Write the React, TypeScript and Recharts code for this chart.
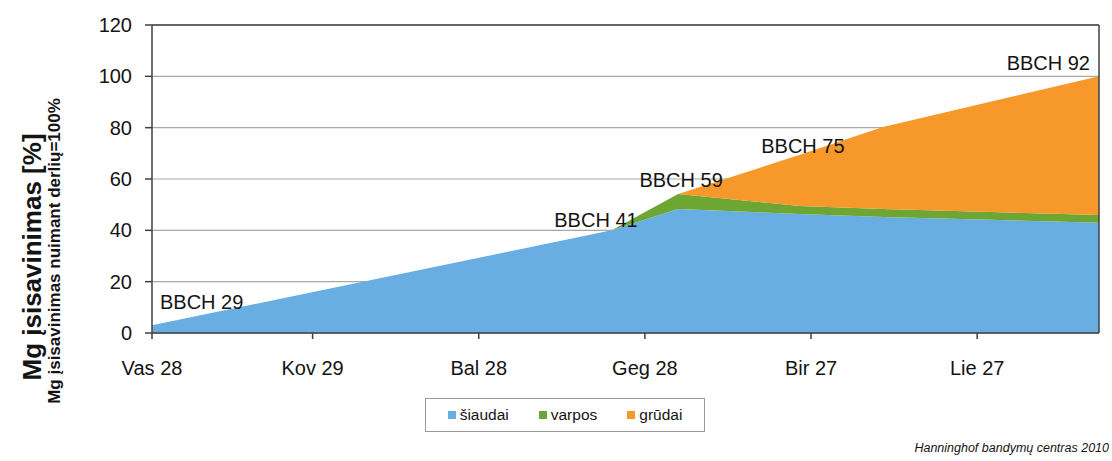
import React from "react";
import { AreaChart, Area, XAxis, YAxis, CartesianGrid, ReferenceLine, LabelList } from "recharts";

// days counted from Vas 28
const days = [0, 83, 95, 117, 132, 171];
const siaudai = [3, 40, 48.3, 46.4, 45.2, 43];
const varpos = [0, 0, 5.9, 3.1, 3.1, 3];
const grudai = [0, 0, 0, 19.9, 32, 54];
const stages = ["BBCH 29", "BBCH 41", "BBCH 59", "BBCH 75", "", "BBCH 92"];

const tickDays = [0, 29, 59, 89, 119, 149];
const tickLabels = ["Vas 28", "Kov 29", "Bal 28", "Geg 28", "Bir 27", "Lie 27"];
const yTicks = [0, 20, 40, 60, 80, 100, 120];

const seriesNames = ["šiaudai", "varpos", "grūdai"];
const colors = ["#68aee2", "#6ea634", "#f6982a"];

const data = days.map((d, i) => ({
  day: d,
  siaudai: siaudai[i],
  varpos: varpos[i],
  grudai: grudai[i],
  stage: stages[i],
}));

const FONT = "'Liberation Sans', Arial, sans-serif";

// where each stage label sits relative to the top of the stack
const stageOffset: Record<string, { dx: number; dy: number; anchor: string }> = {
  "BBCH 29": { dx: 8, dy: -16, anchor: "start" },
  "BBCH 41": { dx: 26, dy: -3, anchor: "end" },
  "BBCH 59": { dx: 3, dy: -7, anchor: "middle" },
  "BBCH 75": { dx: 3, dy: -2, anchor: "middle" },
  "BBCH 92": { dx: -9, dy: -6, anchor: "end" },
};

const StageLabel = (props: any) => {
  const { x, y, value } = props;
  if (!value) return null;
  const o = stageOffset[value];
  return (
    <text x={x + o.dx} y={y + o.dy} textAnchor={o.anchor} fontSize={20} fontFamily={FONT} fill="#141414">
      {value}
    </text>
  );
};

const App = () => {
  return (
    <div style={{ position: "absolute", left: 0, top: 0, width: 1112, height: 461, background: "#fff", fontFamily: FONT }}>
      <AreaChart width={1112} height={461} data={data} margin={{ top: 25, right: 13, left: 72, bottom: 88 }}>
        <CartesianGrid horizontal vertical={false} stroke="#a8a8a8" strokeWidth={1.2} />
        <XAxis
          dataKey="day"
          type="number"
          domain={[0, 171]}
          ticks={tickDays}
          tickFormatter={(v: number) => tickLabels[tickDays.indexOf(v)]}
          height={40}
          tickSize={6}
          tickMargin={22}
          stroke="#404040"
          strokeWidth={1.5}
          tick={{ fill: "#141414", fontSize: 20, fontFamily: FONT }}
        />
        <YAxis
          domain={[0, 120]}
          ticks={yTicks}
          width={80}
          tickSize={7}
          tickMargin={13}
          stroke="#404040"
          strokeWidth={1.5}
          tick={{ fill: "#141414", fontSize: 20, fontFamily: FONT }}
        />
        <Area type="linear" dataKey="siaudai" name={seriesNames[0]} stackId="a" fill={colors[0]} fillOpacity={1} stroke="none" isAnimationActive={false} />
        <Area type="linear" dataKey="varpos" name={seriesNames[1]} stackId="a" fill={colors[1]} fillOpacity={1} stroke="none" isAnimationActive={false} />
        <Area type="linear" dataKey="grudai" name={seriesNames[2]} stackId="a" fill={colors[2]} fillOpacity={1} stroke="none" isAnimationActive={false}>
          <LabelList dataKey="stage" content={<StageLabel />} />
        </Area>
        <ReferenceLine y={120} stroke="#404040" strokeWidth={1.5} />
        <ReferenceLine x={171} stroke="#404040" strokeWidth={1.5} />
      </AreaChart>

      <svg width={80} height={461} style={{ position: "absolute", left: 0, top: 0 }}>
        <text x={41} y={257} transform="rotate(-90 41 257)" textAnchor="middle" fontSize={26} fontWeight="bold" fontFamily={FONT} fill="#141414">
          Mg įsisavinimas [%]
        </text>
        <text x={60} y={251} transform="rotate(-90 60 251)" textAnchor="middle" fontSize={17} fontWeight="bold" fontFamily={FONT} fill="#141414">
          Mg įsisavinimas nuimant derlių=100%
        </text>
      </svg>

      <div
        style={{
          position: "absolute",
          left: 425,
          top: 398,
          width: 280,
          height: 34,
          boxSizing: "border-box",
          border: "1px solid #9a9a9a",
          display: "flex",
          alignItems: "center",
          justifyContent: "center",
          gap: 30,
          fontSize: 15.5,
          color: "#141414",
        }}
      >
        {seriesNames.map((n, i) => (
          <span key={n} style={{ display: "flex", alignItems: "center" }}>
            <span style={{ display: "inline-block", width: 8, height: 8, background: colors[i], marginRight: 4 }} />
            {n}
          </span>
        ))}
      </div>

      <div style={{ position: "absolute", right: 3, top: 441, fontSize: 12.5, fontStyle: "italic", color: "#141414" }}>
        Hanninghof bandymų centras 2010
      </div>
    </div>
  );
};

export default App;
